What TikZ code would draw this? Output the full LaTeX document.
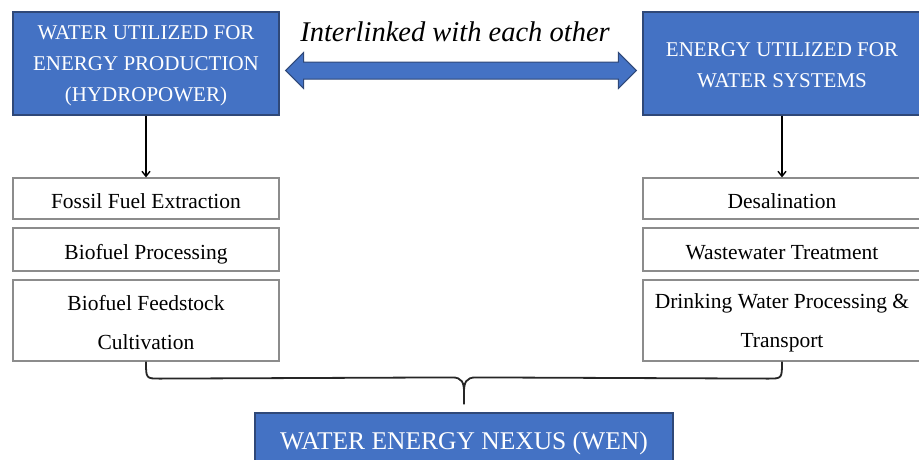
\documentclass[tikz,border=0pt]{standalone}
\usepackage{fontspec}
\setmainfont{Liberation Serif}
\usetikzlibrary{calc,arrows.meta}
\definecolor{boxblue}{RGB}{68,114,196}
\definecolor{blueedge}{RGB}{47,72,120}
\definecolor{grayedge}{RGB}{140,140,140}
\newcommand{\myupstrut}[1]{\rule{0pt}{#1pt}}
\begin{document}
\begin{tikzpicture}[x=1pt,y=-1pt,
  bluebox/.style={draw=blueedge,line width=1.2pt,fill=boxblue,text=white,align=center,inner sep=0pt,
    font=\fontsize{21}{31}\selectfont},
  graybox/.style={draw=grayedge,line width=1.2pt,fill=white,text=black,align=center,inner sep=0pt,
    font=\fontsize{21.5}{39}\selectfont},
  arr/.style={line width=1.4pt,-{Straight Barb[length=5pt,width=8pt]}},
  bracepath/.style={line width=1.8pt,black!85}]
\useasboundingbox (0,0) rectangle (919,459);
% top boxes
\node[bluebox,minimum width=266pt,minimum height=103pt] (tl) at (146,63.5)
  {\myupstrut{19}WATER UTILIZED FOR\\ENERGY PRODUCTION\\(HYDROPOWER)};
\node[bluebox,minimum width=278pt,minimum height=103pt] (tr) at (782,63.5)
  {\myupstrut{17.5}ENERGY UTILIZED FOR\\WATER SYSTEMS};
% left list
\node[graybox,minimum width=266pt,minimum height=41pt] (l1) at (146,198.5) {\myupstrut{19.5}Fossil Fuel Extraction};
\node[graybox,minimum width=266pt,minimum height=43pt] (l2) at (146,249.5) {\myupstrut{24}Biofuel Processing};
\node[graybox,minimum width=266pt,minimum height=81pt] (l3) at (146,320.5) {\myupstrut{19}Biofuel Feedstock\\Cultivation};
% right list
\node[graybox,minimum width=278pt,minimum height=41pt] (r1) at (782,198.5) {\myupstrut{19.5}Desalination};
\node[graybox,minimum width=278pt,minimum height=43pt] (r2) at (782,249.5) {\myupstrut{19.5}Wastewater Treatment};
\node[graybox,minimum width=278pt,minimum height=81pt] (r3) at (782,320.5) {\myupstrut{19}Drinking Water Processing \&\\Transport};
% bottom box
\node[bluebox,minimum width=418pt,minimum height=57pt,font=\fontsize{25.5}{30}\selectfont] (wen) at (464,441.5)
  {\myupstrut{21.5}WATER ENERGY NEXUS (WEN)};
% interlinked label
\node[anchor=base,font=\fontsize{28.5}{32}\selectfont\itshape] (lbl) at (455,41) {Interlinked with each other};
% double arrow
\coordinate (la) at ($(tl.east)+(6,7)$);
\coordinate (ra) at ($(tr.west)+(-6,7)$);
\draw[fill=boxblue,draw=blueedge,line width=1pt]
  (la) -- ++(18,-18) -- ++(0,9.5) -- ($(ra)+(-18,-8.5)$) -- ++(0,-9.5) -- (ra)
  -- ++(-18,18) -- ++(0,-9.5) -- ($(la)+(18,8.5)$) -- ++(0,9.5) -- cycle;
% vertical arrows
\draw[arr] (tl.south) -- (l1.north);
\draw[arr] (tr.south) -- (r1.north);
% brace
\coordinate (tip) at ($(wen.north)+(0,-8)$);
\draw[bracepath] (l3.south) .. controls ($(l3.south)+(0,17)$) .. ($(l3.south)+(14,17)$)
  -- ($(tip)+(-12,-27)$) .. controls ($(tip)+(-2,-27)$) and ($(tip)+(0,-22)$) .. ($(tip)+(0,-12)$) -- (tip);
\draw[bracepath] (r3.south) .. controls ($(r3.south)+(0,17)$) .. ($(r3.south)+(-14,17)$)
  -- ($(tip)+(12,-27)$) .. controls ($(tip)+(2,-27)$) and ($(tip)+(0,-22)$) .. ($(tip)+(0,-12)$);
\end{tikzpicture}
\end{document}
